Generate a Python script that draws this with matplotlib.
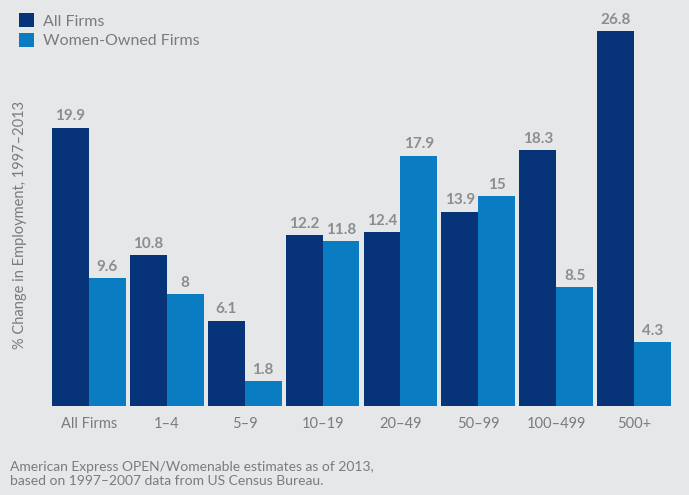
import matplotlib.pyplot as plt
import numpy as np

# size classes (employees)
categories = ["All Firms", "1\u20134", "5\u20139", "10\u201319", "20\u201349", "50\u201399", "100\u2013499", "500+"]
# bar heights as drawn in the picture
all_firms = [19.9, 10.8, 6.1, 12.2, 12.4, 13.9, 18.3, 26.8]
women_owned = [9.15, 8, 1.8, 11.8, 17.9, 15, 8.5, 4.55]
# printed value labels
all_labels = ["19.9", "10.8", "6.1", "12.2", "12.4", "13.9", "18.3", "26.8"]
women_labels = ["9.6", "8", "1.8", "11.8", "17.9", "15", "8.5", "4.3"]

bg = "#e6e7e9"
navy = "#073478"
blue = "#0a7cc1"
grey = "#8c8d8f"
txt = "#7a7b7d"

plt.rcParams['font.family'] = ['Lato', 'DejaVu Sans']

fig = plt.figure(figsize=(6.89, 4.95), dpi=100, facecolor=bg)
ax = fig.add_axes([52/689, 89/495, 619/689, 375/495])
ax.set_facecolor(bg)

x = np.arange(len(categories))
w = 0.474
b1 = ax.bar(x - w/2, all_firms, w, color=navy, label="All Firms")
b2 = ax.bar(x + w/2, women_owned, w, color=blue, label="Women-Owned Firms")

for rect, lab in zip(b1, all_labels):
    ax.text(rect.get_x() + rect.get_width()/2, rect.get_height() + 0.3, lab,
            ha='center', va='bottom', color=grey, fontsize=11, fontweight='bold')
for rect, lab in zip(b2, women_labels):
    ax.text(rect.get_x() + rect.get_width()/2, rect.get_height() + 0.3, lab,
            ha='center', va='bottom', color=grey, fontsize=11, fontweight='bold')

ax.set_xlim(-w, len(categories) - 1 + w)
ax.set_ylim(0, 26.8)
ax.set_xticks(x)
ax.set_xticklabels(categories, color=txt, fontsize=10.5)
ax.tick_params(axis='x', length=0, pad=8)
ax.set_yticks([])
for s in ax.spines.values():
    s.set_visible(False)

fig.text(20/689, 270/495, "% Change in Employment, 1997\u20132013", rotation=90,
         ha='center', va='center', color=txt, fontsize=10.5)

leg = fig.legend(loc='upper left', bbox_to_anchor=(5/689, 1 + 1/495), frameon=False,
                 fontsize=11.5, handlelength=0.9, handleheight=0.9, handletextpad=0.55,
                 labelspacing=0.3)
for t in leg.get_texts():
    t.set_color(txt)

fig.text(10/689, 21/495, "American Express OPEN/Womenable estimates as of 2013,\nbased on 1997\u20132007 data from US Census Bureau.",
         ha='left', va='center', color=txt, fontsize=10, linespacing=1.25)

plt.savefig("out.png", dpi=100, facecolor=bg)
